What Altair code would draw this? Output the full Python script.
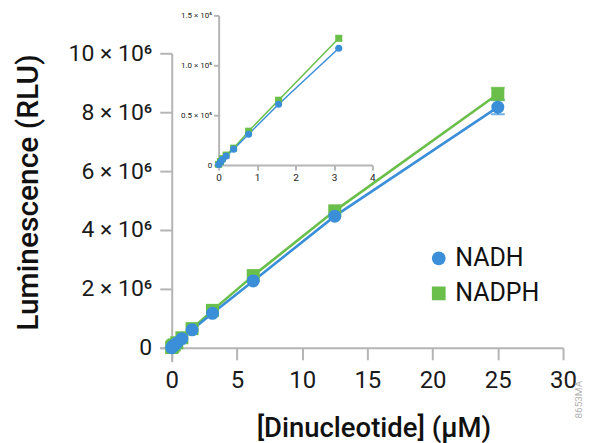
import altair as alt
import pandas as pd

# ---- data ----
conc = [0, 0.049, 0.098, 0.195, 0.39, 0.78, 1.56, 3.125, 6.25, 12.5, 25]
nadh = [0.005e6, 0.03e6, 0.055e6, 0.09e6, 0.16e6, 0.31e6, 0.61e6, 1.17e6, 2.27e6, 4.47e6, 8.17e6]
nadph = [0.008e6, 0.035e6, 0.065e6, 0.10e6, 0.17e6, 0.34e6, 0.65e6, 1.27e6, 2.45e6, 4.65e6, 8.62e6]
nadh_err = [0, 0, 0, 0, 0, 0, 0, 0, 0, 0, 0.24e6]
nadph_err = [0, 0, 0, 0, 0, 0, 0, 0, 0, 0, 0.21e6]

series_names = ["NADH", "NADPH"]
series_colors = ["#3a8fd8", "#6abf4b"]
series_shapes = ["circle", "square"]

main_x_ticks = [0, 5, 10, 15, 20, 25, 30]
main_y_ticks = [0, 2e6, 4e6, 6e6, 8e6, 10e6]
inset_x_ticks = [0, 1, 2, 3, 4]
inset_y_ticks = [0, 0.5e6, 1.0e6, 1.5e6]
inset_max_conc = 3.2

# ---- build table (NADPH first so NADH draws on top) ----
rows = []
for name, vals, errs in [("NADPH", nadph, nadph_err), ("NADH", nadh, nadh_err)]:
    for c, v, e in zip(conc, vals, errs):
        rows.append({"x": c, "y": v, "err": e, "lo": v - e, "hi": v + e, "series": name})
df = pd.DataFrame(rows)

FONT = "Roboto"
AX_GRAY = "#b5b5b5"

W, H = 404, 309

# ---- main chart encodings ----
mx = alt.X("x:Q", scale=alt.Scale(domain=[-0.918, 30], nice=False, zero=False),
           axis=alt.Axis(values=main_x_ticks, title="[Dinucleotide] (µM)", offset=-14,
                         tickSize=12, labelFontSize=24, labelPadding=9, labelFlush=False,
                         titleFontSize=27.5, titleFontWeight=500, titlePadding=22,
                         titleX=214, grid=False))
my = alt.Y("y:Q", scale=alt.Scale(domain=[-0.475e6, 10e6], nice=False, zero=False),
           axis=alt.Axis(values=main_y_ticks, title="Luminescence (RLU)", offset=-12,
                         labelExpr="datum.value == 0 ? '0' : format(datum.value/1e6, 'd') + ' × 10⁶'",
                         tickSize=12, labelFontSize=23, labelPadding=8, labelFlush=False,
                         titleFontSize=30, titleFontWeight=500, titlePadding=25,
                         titleY=139, grid=False))

leg = dict(title=None, orient="none", legendX=267, legendY=193,
           labelFontSize=25, labelFont=FONT, labelColor="#111",
           symbolSize=190, rowPadding=9, labelOffset=4, symbolStrokeWidth=0)
color_enc = alt.Color("series:N", scale=alt.Scale(domain=series_names, range=series_colors),
                      legend=alt.Legend(**leg))
shape_enc = alt.Shape("series:N", scale=alt.Scale(domain=series_names, range=series_shapes),
                      legend=alt.Legend(**leg))

base = alt.Chart(df)

main_lines = []
for name, col in zip(series_names[::-1], series_colors[::-1]):
    main_lines.append(
        base.transform_filter(alt.datum.series == name)
        .mark_line(color=col, strokeWidth=2.6)
        .encode(x=mx, y=my)
    )

err_rules = []
for name, col in zip(series_names, series_colors):
    sub = base.transform_filter((alt.datum.series == name) & (alt.datum.err > 0))
    err_rules.append(sub.mark_rule(color=col, strokeWidth=2).encode(x=mx, y=alt.Y("lo:Q"), y2="hi:Q"))
    err_rules.append(sub.mark_tick(color=col, orient="horizontal", size=14, thickness=2)
                     .encode(x=mx, y=alt.Y("lo:Q")))
    err_rules.append(sub.mark_tick(color=col, orient="horizontal", size=14, thickness=2)
                     .encode(x=mx, y=alt.Y("hi:Q")))

main_pts = base.mark_point(filled=True, opacity=1, size=170).encode(
    x=mx, y=my, color=color_enc, shape=shape_enc)

code_text = alt.Chart(pd.DataFrame({"t": ["8653MA"]})).mark_text(
    angle=270, fontSize=10, color="#b0b0b0", font=FONT
).encode(text="t:N", x=alt.value(W + 16), y=alt.value(347))

main = alt.layer(*main_lines, *err_rules, main_pts, code_text)

# ---- inset ----
ix = alt.X("x:Q", scale=alt.Scale(domain=[0, 4], range=[59, 213], nice=False),
           axis=alt.Axis(orient="bottom", offset=112 - H, values=inset_x_ticks, title=None,
                         tickSize=5, labelFontSize=10, labelPadding=2, labelFlush=False, grid=False))
iy = alt.Y("y:Q", scale=alt.Scale(domain=[0, 1.5e6], range=[112, -38], nice=False, zero=False),
           axis=alt.Axis(orient="left", offset=-59, values=inset_y_ticks, title=None,
                         labelExpr="datum.value == 0 ? '0' : format(datum.value/1e6, '.1f') + ' × 10⁶'",
                         tickSize=5, labelFontSize=8, labelPadding=2, labelFlush=False, grid=False))

ibase = alt.Chart(df).transform_filter(alt.datum.x <= inset_max_conc)
inset_lines = []
for name, col in zip(series_names[::-1], series_colors[::-1]):
    inset_lines.append(
        ibase.transform_filter(alt.datum.series == name)
        .mark_line(color=col, strokeWidth=1.5).encode(x=ix, y=iy)
    )
inset_pts = ibase.mark_point(filled=True, opacity=1, size=50).encode(
    x=ix, y=iy,
    color=alt.Color("series:N", scale=alt.Scale(domain=series_names, range=series_colors), legend=None),
    shape=alt.Shape("series:N", scale=alt.Scale(domain=series_names, range=series_shapes), legend=None),
)
inset = alt.layer(*inset_lines, inset_pts)

chart = (
    alt.layer(main, inset)
    .resolve_scale(x="independent", y="independent")
    .properties(width=W, height=H, padding={"left": 5, "top": 3, "right": 0, "bottom": 0})
    .configure_view(stroke=None)
    .configure_axis(domainColor=AX_GRAY, tickColor=AX_GRAY, domainWidth=2, tickWidth=2,
                    labelFont=FONT, titleFont=FONT, labelColor="#1a1a1a", titleColor="#111")
)

chart.save("out.html", embed_options={"renderer": "svg", "actions": False})
